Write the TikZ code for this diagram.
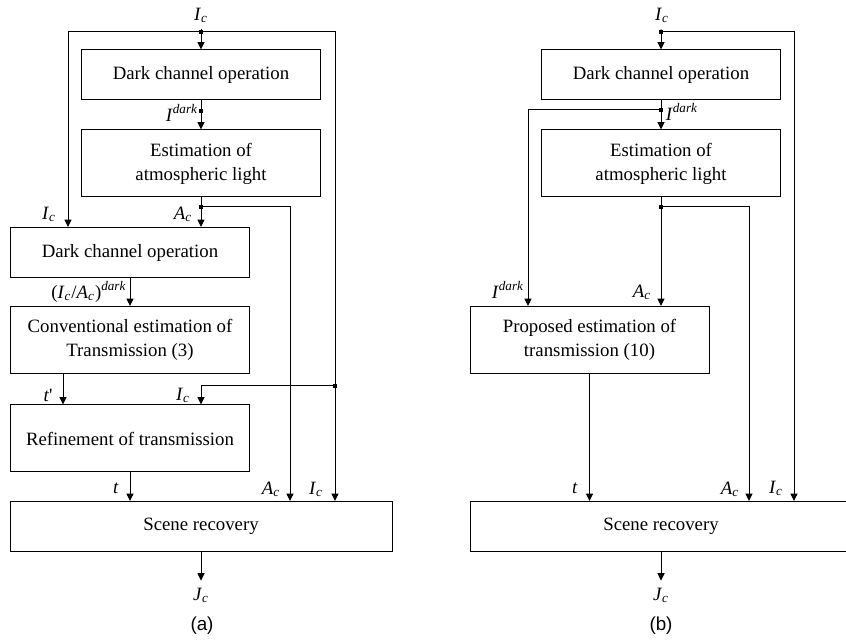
\documentclass[tikz,border=0pt]{standalone}
\usepackage{fontspec}
\setmainfont{Liberation Serif}
\newfontfamily\capfont{Liberation Sans}
\usetikzlibrary{arrows.meta}
% kursive Groessen mit Index
\newcommand{\vsub}[2]{\textit{#1}\textsubscript{\textit{#2}}}
\newcommand{\vsup}[2]{\textit{#1}\textsuperscript{\textit{#2}}}

\begin{document}
\begin{tikzpicture}[x=0.5pt, y=-0.5pt, line width=0.5pt,
		>={Triangle[length=3.7pt,width=3.5pt]},   %Pfeilspitzen
		font=\fontsize{9.4}{12}\selectfont,
		block/.style={draw, align=center, inner sep=0pt, minimum width=119.5pt, minimum height=25pt},
		tall/.style={minimum height=33.5pt},
		wide/.style={minimum width=191pt},
		junc/.style={rectangle, fill, inner sep=0pt, minimum size=2.2pt}]
		\useasboundingbox (0,0) rectangle (846,641);
		\clip (0,0) rectangle (846,641);
		% Teil (a): Kaesten
		\node[block] (a1) at (201,75) {Dark channel operation};
		\node[block,tall] (a2) at (201,163.5) {Estimation of\\atmospheric light};
		\node[block] (a3) at (130,252.5) {Dark channel operation};
		\node[block,tall] (a4) at (130,340) {Conventional estimation of\\Transmission (3)};
		\node[block,tall] (a5) at (130,438.5) {Refinement of transmission};
		\node[block,wide] (a6) at (201,526.5) {Scene recovery};
		% Verzweigungen
		\node[junc] (aj1) at (201,32) {};
		\node[junc] (aj2) at (201,111) {};
		\node[junc] (aj3) at (201,207) {};
		\node[junc] (aj4) at (335,386) {};
		% Beschriftungen
		\node (aIc) at (201,15) {\vsub{I}{c}};
		\node at (182,113) {\vsup{I}{dark}};
		\node at (183,214) {\vsub{A}{c}};
		\node at (49,214) {\vsub{I}{c}};
		\node at (89,292) {(\vsub{I}{c}/\vsub{A}{c})\textsuperscript{\textit{dark}}};
		\node at (48,395) {\textit{t}\textquotesingle};
		\node at (183,395) {\vsub{I}{c}};
		\node at (116,488) {\textit{t}};
		\node at (271,489) {\vsub{A}{c}};
		\node at (316,489) {\vsub{I}{c}};
		\node (aJc) at (201,595) {\vsub{J}{c}};
		\node[font=\capfont\fontsize{9.4}{12}\selectfont] at (202,626) {(a)};
		% Verbindungen
		\draw (aIc) -- (aj1.center);
		\draw[->] (aj1.center) -- (a1);
		\draw (a1) -- (aj2.center);
		\draw[->] (aj2.center) -- (a2);
		\draw (a2) -- (aj3.center);
		\draw[->] (aj3.center) -- (aj3 |- a3.north);
		\draw[->] (aj3.center) -| (a6.north -| 290,0);
		\draw[->] (aj1.center) -| (a3.north -| 68,0);
		\draw[->] (aj1.center) -| (a6.north -| 335,0);
		\draw[->] (a3) -- (a4);
		\draw[->] (a4.south -| 63,0) -- (a5.north -| 63,0);
		\draw[->] (aj4.center) -| (a5.north -| 201,0);
		\draw[->] (a5) -- (a5 |- a6.north);
		\draw[->] (a6) -- (aJc);
		% Teil (b): Kaesten
		\node[block] (b1) at (661,75) {Dark channel operation};
		\node[block,tall] (b2) at (661,163.5) {Estimation of\\atmospheric light};
		\node[block,tall] (b3) at (589.5,340) {Proposed estimation of\\transmission (10)};
		\node[block,wide] (b4) at (661,526.5) {Scene recovery};
		% Verzweigungen
		\node[junc] (bj1) at (661,32) {};
		\node[junc] (bj2) at (661,110) {};
		\node[junc] (bj3) at (661,207) {};
		% Beschriftungen
		\node (bIc) at (662,15) {\vsub{I}{c}};
		\node at (682,112) {\vsup{I}{dark}};
		\node at (508,290) {\vsup{I}{dark}};
		\node at (642,292) {\vsub{A}{c}};
		\node at (575,488) {\textit{t}};
		\node at (730,489) {\vsub{A}{c}};
		\node at (776,488) {\vsub{I}{c}};
		\node (bJc) at (661,595) {\vsub{J}{c}};
		\node[font=\capfont\fontsize{9.4}{12}\selectfont] at (661,626) {(b)};
		% Verbindungen
		\draw (bIc) -- (bj1.center);
		\draw[->] (bj1.center) -- (b1);
		\draw[->] (bj1.center) -| (b4.north -| 794,0);
		\draw (b1) -- (bj2.center);
		\draw[->] (bj2.center) -- (b2);
		\draw[->] (bj2.center) -| (b3.north -| 528,0);
		\draw (b2) -- (bj3.center);
		\draw[->] (bj3.center) -- (b3.north -| bj3);
		\draw[->] (bj3.center) -| (b4.north -| 749,0);
		\draw[->] (b3) -- (b3 |- b4.north);
		\draw[->] (b4) -- (bJc);
	\end{tikzpicture}
\end{document}
